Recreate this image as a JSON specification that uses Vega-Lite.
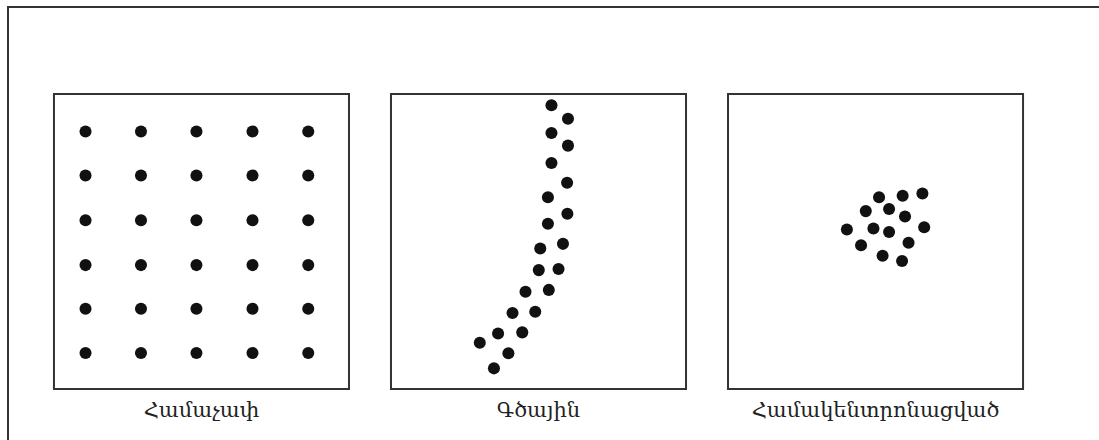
{
  "$schema": "https://vega.github.io/schema/vega-lite/v6.json",
  "width": 1095,
  "height": 437,
  "autosize": {"type": "none"},
  "padding": {"left": 8, "top": 7, "right": -4, "bottom": -4},
  "background": "white",
  "config": {"view": {"stroke": "#333333", "strokeWidth": 2}},
  "datasets": {
    "panels": [
      {"panel": "Համաչափ"},
      {"panel": "Գծային"},
      {"panel": "Համակենտրոնացված"}
    ],
    "points": [
      {"panel": "Համաչափ", "x": 10.7, "y": 12.7},
      {"panel": "Համաչափ", "x": 29.5, "y": 12.7},
      {"panel": "Համաչափ", "x": 48.3, "y": 12.7},
      {"panel": "Համաչափ", "x": 67.3, "y": 12.7},
      {"panel": "Համաչափ", "x": 86.2, "y": 12.7},
      {"panel": "Համաչափ", "x": 10.7, "y": 27.6},
      {"panel": "Համաչափ", "x": 29.5, "y": 27.6},
      {"panel": "Համաչափ", "x": 48.3, "y": 27.6},
      {"panel": "Համաչափ", "x": 67.3, "y": 27.6},
      {"panel": "Համաչափ", "x": 86.2, "y": 27.6},
      {"panel": "Համաչափ", "x": 10.7, "y": 42.8},
      {"panel": "Համաչափ", "x": 29.5, "y": 42.8},
      {"panel": "Համաչափ", "x": 48.3, "y": 42.8},
      {"panel": "Համաչափ", "x": 67.3, "y": 42.8},
      {"panel": "Համաչափ", "x": 86.2, "y": 42.8},
      {"panel": "Համաչափ", "x": 10.7, "y": 58.0},
      {"panel": "Համաչափ", "x": 29.5, "y": 58.0},
      {"panel": "Համաչափ", "x": 48.3, "y": 58.0},
      {"panel": "Համաչափ", "x": 67.3, "y": 58.0},
      {"panel": "Համաչափ", "x": 86.2, "y": 58.0},
      {"panel": "Համաչափ", "x": 10.7, "y": 72.8},
      {"panel": "Համաչափ", "x": 29.5, "y": 72.8},
      {"panel": "Համաչափ", "x": 48.3, "y": 72.8},
      {"panel": "Համաչափ", "x": 67.3, "y": 72.8},
      {"panel": "Համաչափ", "x": 86.2, "y": 72.8},
      {"panel": "Համաչափ", "x": 10.7, "y": 87.8},
      {"panel": "Համաչափ", "x": 29.5, "y": 87.8},
      {"panel": "Համաչափ", "x": 48.3, "y": 87.8},
      {"panel": "Համաչափ", "x": 67.3, "y": 87.8},
      {"panel": "Համաչափ", "x": 86.2, "y": 87.8},
      {"panel": "Գծային", "x": 54.4, "y": 3.8},
      {"panel": "Գծային", "x": 60.0, "y": 8.4},
      {"panel": "Գծային", "x": 54.4, "y": 13.2},
      {"panel": "Գծային", "x": 60.0, "y": 17.5},
      {"panel": "Գծային", "x": 54.4, "y": 23.4},
      {"panel": "Գծային", "x": 59.7, "y": 30.1},
      {"panel": "Գծային", "x": 53.2, "y": 35.0},
      {"panel": "Գծային", "x": 59.8, "y": 40.6},
      {"panel": "Գծային", "x": 53.2, "y": 44.0},
      {"panel": "Գծային", "x": 58.3, "y": 50.8},
      {"panel": "Գծային", "x": 50.6, "y": 52.4},
      {"panel": "Գծային", "x": 56.8, "y": 59.3},
      {"panel": "Գծային", "x": 50.1, "y": 59.7},
      {"panel": "Գծային", "x": 53.5, "y": 66.4},
      {"panel": "Գծային", "x": 45.6, "y": 67.0},
      {"panel": "Գծային", "x": 48.9, "y": 73.8},
      {"panel": "Գծային", "x": 41.2, "y": 74.2},
      {"panel": "Գծային", "x": 44.5, "y": 80.8},
      {"panel": "Գծային", "x": 36.3, "y": 81.2},
      {"panel": "Գծային", "x": 39.8, "y": 87.9},
      {"panel": "Գծային", "x": 30.1, "y": 84.3},
      {"panel": "Գծային", "x": 34.9, "y": 93.0},
      {"panel": "Համակենտրոնացված", "x": 51.2, "y": 35.0},
      {"panel": "Համակենտրոնացված", "x": 59.2, "y": 34.5},
      {"panel": "Համակենտրոնացված", "x": 65.9, "y": 33.7},
      {"panel": "Համակենտրոնացված", "x": 46.7, "y": 39.7},
      {"panel": "Համակենտրոնացված", "x": 54.6, "y": 39.0},
      {"panel": "Համակենտրոնացված", "x": 60.0, "y": 41.5},
      {"panel": "Համակենտրոնացված", "x": 40.3, "y": 45.9},
      {"panel": "Համակենտրոնացված", "x": 49.3, "y": 45.6},
      {"panel": "Համակենտրոնացված", "x": 54.6, "y": 46.8},
      {"panel": "Համակենտրոնացված", "x": 66.5, "y": 45.2},
      {"panel": "Համակենտրոնացված", "x": 45.1, "y": 51.3},
      {"panel": "Համակենտրոնացված", "x": 61.2, "y": 50.4},
      {"panel": "Համակենտրոնացված", "x": 52.4, "y": 54.8},
      {"panel": "Համակենտրոնացված", "x": 59.0, "y": 56.6}
    ]
  },
  "encoding": {
    "x": {
      "field": "panel",
      "type": "nominal",
      "axis": null,
      "scale": {
        "domain": ["Համաչափ", "Գծային", "Համակենտրոնացված"],
        "paddingInner": 0.1246,
        "paddingOuter": 0.1868,
        "align": 0.365
      }
    }
  },
  "resolve": {"scale": {"xOffset": "independent"}},
  "layer": [
    {
      "data": {"name": "panels"},
      "mark": {"type": "rect", "fill": "white", "stroke": "#333333", "strokeWidth": 2},
      "encoding": {
        "y": {"datum": 0, "type": "quantitative", "axis": null, "scale": {"domain": [-29.49, 118.64], "reverse": true, "nice": false, "zero": false}},
        "y2": {"datum": 100}
      }
    },
    {
      "data": {"name": "points"},
      "mark": {"type": "circle", "size": 145, "color": "#111111", "opacity": 1},
      "encoding": {
        "xOffset": {"field": "x", "type": "quantitative", "scale": {"domain": [0, 100], "range": [0, 295], "nice": false, "zero": false}},
        "y": {"field": "y", "type": "quantitative", "axis": null, "scale": {"domain": [-29.49, 118.64], "reverse": true, "nice": false, "zero": false}}
      }
    },
    {
      "data": {"name": "panels"},
      "mark": {"type": "text", "font": "DejaVu Serif", "fontSize": 21, "color": "#222222", "baseline": "middle", "align": "center"},
      "encoding": {
        "y": {"datum": 107.3, "type": "quantitative", "axis": null, "scale": {"domain": [-29.49, 118.64], "reverse": true, "nice": false, "zero": false}},
        "text": {"field": "panel"}
      }
    }
  ]
}
